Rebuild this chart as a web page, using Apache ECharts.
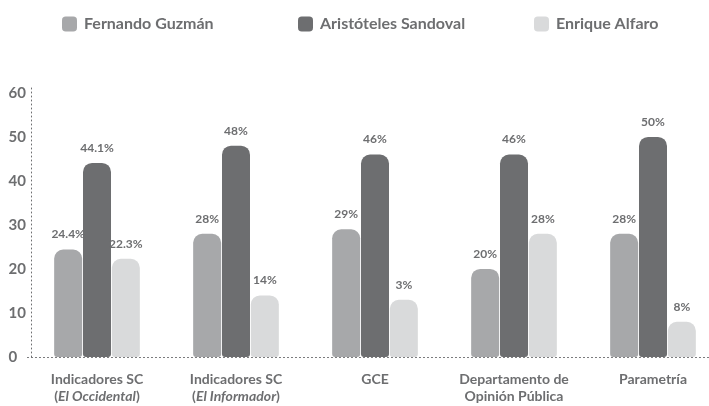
<!DOCTYPE html>
<html><head><meta charset="utf-8">
<script src="https://cdn.jsdelivr.net/npm/echarts@6/dist/echarts.min.js"></script>
<style>html,body{margin:0;padding:0;background:#fff;overflow:hidden}#c{width:723px;height:406px}</style>
</head><body><div id="c"></div>
<script>
const categories = ['Indicadores SC|El Occidental', 'Indicadores SC|El Informador', 'GCE', 'Departamento de|Opinión Pública', 'Parametría'];
const seriesNames = ['Fernando Guzmán', 'Aristóteles Sandoval', 'Enrique Alfaro'];
const guzman = [24.4, 28, 29, 20, 28];
const sandoval = [44.1, 48, 46, 46, 50];
const alfaro = [22.3, 14, 13, 28, 8];
const guzmanLabels = ['24.4%', '28%', '29%', '20%', '28%'];
const sandovalLabels = ['44.1%', '48%', '46%', '46%', '50%'];
const alfaroLabels = ['22.3%', '14%', '3%', '28%', '8%'];
const yTicks = [0, 10, 20, 30, 40, 50, 60];

const colors = ['#a7a8aa', '#6d6e70', '#d9dadb'];
const textColor = '#6d6e70';
const font = 'Lato';

function mkSeries(name, data, labels, color) {
  return {
    name, type: 'bar', data, barWidth: 28, barGap: '3%',
    itemStyle: { color, borderRadius: [9, 9, 3, 3] },
    label: {
      show: true, position: 'top', distance: 9,
      formatter: p => labels[p.dataIndex],
      color: textColor, fontFamily: font, fontWeight: 'bold', fontSize: 12
    }
  };
}

const legendLefts = [57, 293, 529];
const legends = seriesNames.map((n, i) => ({
  top: 11, left: legendLefts[i], itemWidth: 15, itemHeight: 15, icon: 'roundRect',
  textStyle: { color: textColor, fontFamily: font, fontWeight: 'bold', fontSize: 16, padding: [0, 0, 0, 2] },
  data: [n]
}));

const chart = echarts.init(document.getElementById('c'));
chart.setOption({
  animation: false,
  legend: legends,
  grid: { left: 27.5, top: 85, width: 695, height: 272, containLabel: false },
  xAxis: {
    type: 'category', data: categories,
    axisLine: { lineStyle: { color: '#6d6e70', type: [1, 3], width: 1 } },
    axisTick: { show: false },
    axisLabel: {
      margin: 14, interval: 0,
      formatter: v => {
        const parts = v.split('|');
        if (parts.length === 1) return '{b|' + parts[0] + '}';
        if (parts[0] === 'Indicadores SC') return '{b|' + parts[0] + '}\n{b|(}{i|' + parts[1] + '}{b|)}';
        return '{b|' + parts[0] + '}\n{b|' + parts[1] + '}';
      },
      rich: {
        b: { color: textColor, fontFamily: font, fontWeight: 'bold', fontSize: 14, lineHeight: 17 },
        i: { color: textColor, fontFamily: font, fontWeight: 'bold', fontStyle: 'italic', fontSize: 14, lineHeight: 17 }
      }
    }
  },
  yAxis: {
    type: 'value', min: 0, max: 61.8, interval: 10, offset: -4,
    axisLine: { show: true, lineStyle: { color: '#6d6e70', type: [1, 3], width: 1 } },
    axisTick: { show: false },
    splitLine: { show: false },
    axisLabel: {
      showMaxLabel: false, align: 'left', margin: 23,
      formatter: v => yTicks.includes(v) ? String(v) : '',
      color: textColor, fontFamily: font, fontWeight: 'bold', fontSize: 15
    }
  },
  series: [
    mkSeries(seriesNames[0], guzman, guzmanLabels, colors[0]),
    mkSeries(seriesNames[1], sandoval, sandovalLabels, colors[1]),
    mkSeries(seriesNames[2], alfaro, alfaroLabels, colors[2])
  ]
});
</script></body></html>
